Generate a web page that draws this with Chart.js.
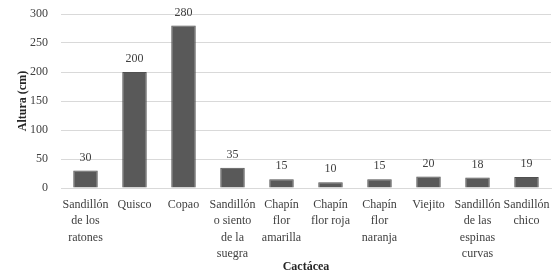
<!DOCTYPE html>
<html>
<head>
<meta charset="utf-8">
<script src="https://cdn.jsdelivr.net/npm/chart.js@4.4.0/dist/chart.umd.min.js"></script>
<style>
  html, body { margin: 0; padding: 0; background: #fff; }
  #wrap { width: 557px; height: 278px; }
</style>
</head>
<body>
<div id="wrap"><canvas id="chart"></canvas></div>
<script>
const categories = [
  ['Sandillón', 'de los', 'ratones'],
  ['Quisco'],
  ['Copao'],
  ['Sandillón', 'o siento', 'de la', 'suegra'],
  ['Chapín', 'flor', 'amarilla'],
  ['Chapín', 'flor roja'],
  ['Chapín', 'flor', 'naranja'],
  ['Viejito'],
  ['Sandillón', 'de las', 'espinas', 'curvas'],
  ['Sandillón', 'chico']
];
const heights = [30, 200, 280, 35, 15, 10, 15, 20, 18, 19];
const yTicks = [0, 50, 100, 150, 200, 250, 300];

const FONT = "'Liberation Serif', 'DejaVu Serif', serif";

// Value labels above each bar
const barValues = {
  id: 'barValues',
  afterDatasetsDraw(chart) {
    const c = chart.ctx;
    const meta = chart.getDatasetMeta(0);
    c.save();
    c.font = '12px ' + FONT;
    c.fillStyle = '#404040';
    c.textAlign = 'center';
    c.textBaseline = 'middle';
    meta.data.forEach((bar, i) => {
      c.fillText(String(heights[i]), bar.x, bar.y - 13);
    });
    c.restore();
  }
};

new Chart(document.getElementById('chart'), {
  type: 'bar',
  data: {
    labels: categories,
    datasets: [{
      data: heights,
      backgroundColor: '#595959',
      borderColor: '#505050',
      borderWidth: 1,
      categoryPercentage: 1,
      barPercentage: 0.5
    }]
  },
  options: {
    responsive: true,
    maintainAspectRatio: false,
    animation: false,
    layout: { padding: { top: 14, right: 6, left: 12, bottom: 0 } },
    plugins: { legend: { display: false }, tooltip: { enabled: false } },
    scales: {
      x: {
        grid: { display: false },
        border: { color: '#d9d9d9' },
        ticks: { color: '#404040', font: { size: 12, family: FONT, lineHeight: 1.35 }, maxRotation: 0, autoSkip: false, padding: 1 },
        title: { display: true, text: 'Cactácea', color: '#262626', font: { size: 12, weight: 'bold', family: FONT }, padding: { top: 0 } },
        afterFit(s) { s.height = 90; }
      },
      y: {
        min: 0,
        max: 300,
        afterBuildTicks(s) { s.ticks = yTicks.map(v => ({ value: v })); },
        grid: { color: '#d9d9d9', tickColor: 'rgba(0,0,0,0)', tickLength: 10 },
        border: { display: false },
        ticks: { color: '#404040', font: { size: 12, family: FONT }, padding: 3 },
        title: { display: true, text: 'Altura (cm)', color: '#262626', font: { size: 12, weight: 'bold', family: FONT }, padding: { bottom: 4 } },
        afterFit(s) { s.width = 49; }
      }
    }
  },
  plugins: [barValues]
});
</script>
</body>
</html>
